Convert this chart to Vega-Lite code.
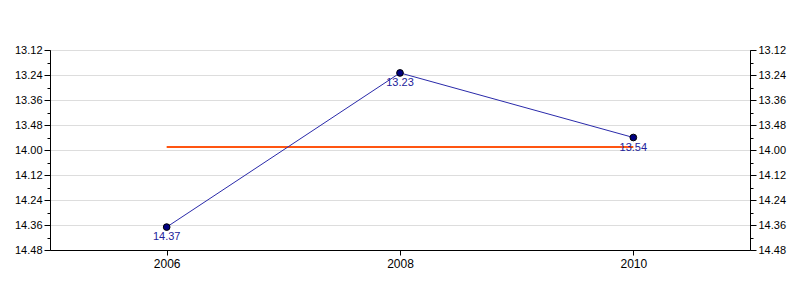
{
  "$schema": "https://vega.github.io/schema/vega-lite/v6.json",
  "width": 700,
  "height": 200,
  "autosize": {"type": "none"},
  "padding": {"left": 50, "top": 50, "right": 50, "bottom": 50},
  "background": "white",
  "config": {
    "view": {"stroke": "black", "strokeWidth": 1},
    "axis": {
      "labelFont": "Liberation Sans",
      "labelFontSize": 11,
      "labelColor": "black",
      "tickColor": "black",
      "domainColor": "black",
      "title": null
    }
  },
  "data": {
    "values": [
      {"year": 2006, "sec": 877, "label": "14.37", "avg": 838.5},
      {"year": 2008, "sec": 803, "label": "13.23", "avg": 838.5},
      {"year": 2010, "sec": 834, "label": "13.54", "avg": 838.5}
    ]
  },
  "encoding": {
    "x": {
      "field": "year",
      "type": "quantitative",
      "scale": {"domain": [2005, 2011], "nice": false, "zero": false},
      "axis": {"values": [2006, 2008, 2010], "format": "d", "grid": false, "tickSize": 5, "labelPadding": 3, "labelFontSize": 12}
    }
  },
  "layer": [
    {
      "mark": {"type": "line", "color": "#ff5511", "strokeWidth": 2},
      "encoding": {
        "y": {
          "field": "avg",
          "type": "quantitative",
          "scale": {"domain": [792, 888], "reverse": true, "nice": false, "zero": false},
          "axis": {
            "orient": "right",
            "values": [792, 798, 804, 810, 816, 822, 828, 834, 840, 846, 852, 858, 864, 870, 876, 882, 888],
            "labelExpr": "datum.value % 12 == 0 ? floor(datum.value/60) + '.' + (datum.value % 60 < 10 ? '0' : '') + (datum.value % 60) : ''",
            "grid": false,
            "tickSize": {"condition": {"test": "datum.value % 12 != 0", "value": 3}, "value": 6},
            "labelPadding": 2
          }
        }
      }
    },
    {
      "mark": {"type": "line", "color": "#2a2aaa", "strokeWidth": 1},
      "encoding": {
        "y": {
          "field": "sec",
          "type": "quantitative",
          "scale": {"domain": [792, 888], "reverse": true, "nice": false, "zero": false},
          "axis": {
            "orient": "left",
            "values": [792, 798, 804, 810, 816, 822, 828, 834, 840, 846, 852, 858, 864, 870, 876, 882, 888],
            "labelExpr": "datum.value % 12 == 0 ? floor(datum.value/60) + '.' + (datum.value % 60 < 10 ? '0' : '') + (datum.value % 60) : ''",
            "grid": true,
            "gridColor": "#dddddd",
            "gridOpacity": {"condition": {"test": "datum.value % 12 != 0", "value": 0}, "value": 1},
            "tickSize": {"condition": {"test": "datum.value % 12 != 0", "value": 3}, "value": 6},
            "labelPadding": 2
          }
        }
      }
    },
    {
      "mark": {"type": "point", "filled": true, "color": "#000080", "stroke": "black", "strokeWidth": 1, "size": 45, "opacity": 1},
      "encoding": {
        "y": {
          "field": "sec",
          "type": "quantitative",
          "scale": {"domain": [792, 888], "reverse": true, "nice": false, "zero": false},
          "axis": null
        }
      }
    },
    {
      "mark": {"type": "text", "color": "#22229a", "font": "Liberation Sans", "fontSize": 11, "baseline": "top", "dy": 4, "align": "center"},
      "encoding": {
        "y": {
          "field": "sec",
          "type": "quantitative",
          "scale": {"domain": [792, 888], "reverse": true, "nice": false, "zero": false},
          "axis": null
        },
        "text": {"field": "label", "type": "nominal"}
      }
    }
  ],
  "resolve": {"scale": {"y": "independent"}}
}
